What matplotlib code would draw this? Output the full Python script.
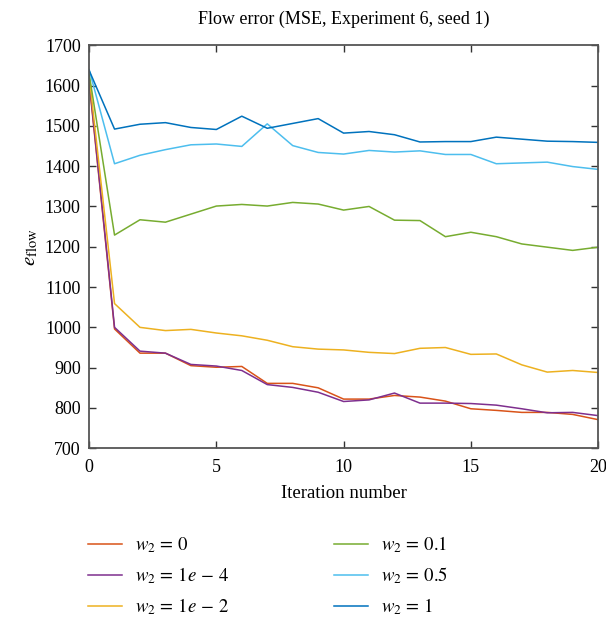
import numpy as np
import matplotlib
matplotlib.use("Agg")
import matplotlib.pyplot as plt

plt.rcParams['font.family'] = ['Liberation Serif', 'DejaVu Serif']
plt.rcParams['mathtext.fontset'] = 'stix'

# iteration axis
iters = np.arange(0, 21)

# e_flow per weight setting
w0 = [1610, 996, 936, 936, 905, 901, 903, 861, 861, 850, 822,
      822, 831, 827, 817, 798, 794, 789, 789, 784, 771]
w1e4 = [1615, 1000, 941, 936, 908, 904, 893, 858, 851, 839, 816,
        820, 837, 812, 812, 811, 807, 798, 788, 789, 781]
w1e2 = [1625, 1059, 1000, 992, 995, 986, 979, 968, 952, 946, 944,
        938, 935, 948, 950, 933, 934, 907, 889, 893, 888]
w01 = [1630, 1229, 1267, 1261, 1281, 1301, 1305, 1301, 1310, 1306, 1291,
       1300, 1266, 1265, 1225, 1236, 1225, 1207, 1199, 1191, 1199]
w05 = [1640, 1406, 1427, 1441, 1453, 1455, 1449, 1505, 1451, 1434, 1430,
       1439, 1435, 1438, 1429, 1429, 1406, 1408, 1410, 1399, 1392]
w1 = [1638, 1492, 1504, 1508, 1496, 1491, 1524, 1494, 1506, 1518, 1482,
      1486, 1478, 1460, 1461, 1461, 1472, 1467, 1462, 1461, 1459]

series = [w0, w1e4, w1e2, w01, w05, w1]
labels = [r'$w_2\,=\,0$', r'$w_2\,=\,1e\,-\,4$', r'$w_2\,=\,1e\,-\,2$',
          r'$w_2\,=\,0.1$', r'$w_2\,=\,0.5$', r'$w_2\,=\,1$']
colors = ['#D95319', '#7E2F8E', '#EDB120', '#77AC30', '#4DBEEE', '#0072BD']

fig = plt.figure(figsize=(6.06, 6.2), dpi=100)
ax = fig.add_axes([0.147, 0.277, 0.840, 0.650])

for vals, lab, c in zip(series, labels, colors):
    ax.plot(iters, vals, color=c, lw=1.1, label=lab)

ax.set_xlim(0, 20)
ax.set_ylim(700, 1700)
ax.set_xticks([0, 5, 10, 15, 20])
ax.set_yticks(np.arange(700, 1701, 100))
ax.tick_params(direction='in', top=True, right=True, labelsize=13,
               length=5, width=1, color='#333333')
ax.tick_params(axis='x', pad=8)
ax.tick_params(axis='y', pad=6)
for s in ax.spines.values():
    s.set_color('#555555')
    s.set_linewidth(1.3)

ax.set_title('Flow error (MSE, Experiment 6, seed 1)', fontsize=13, pad=15)
ax.set_xlabel('Iteration number', fontsize=13.5, labelpad=6)
ax.set_ylabel(r'$e_{\mathrm{flow}}$', fontsize=15, labelpad=3)

fig.legend(loc='upper left', bbox_to_anchor=(0.145, 0.138), ncol=2,
           frameon=False, fontsize=13.5, handlelength=1.8, handletextpad=0.7,
           columnspacing=5.6, labelspacing=0.55, borderpad=0,
           borderaxespad=0)

plt.savefig('out.png', dpi=100)
plt.close(fig)
